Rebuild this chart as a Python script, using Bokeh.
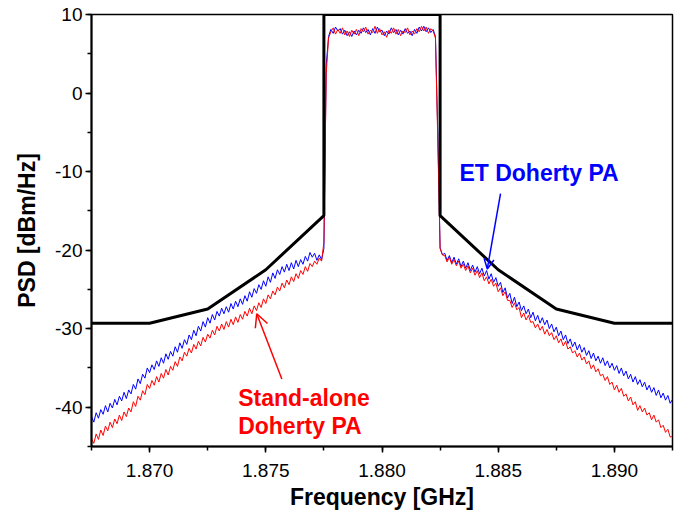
import numpy as np
from bokeh.plotting import figure
from bokeh.models import (Range1d, SingleIntervalTicker, NumeralTickFormatter,
                          Label, Arrow, OpenHead)
from bokeh.embed import file_html
from bokeh.resources import INLINE

# ---------------- data ----------------
# frequency grid of the measured spectra (GHz), 0.1 MHz spacing
freq = np.linspace(1.8675, 1.8925, 251)

# ET Doherty PA (blue)
blue_left = [
    -41.2, -41.9, -40.7, -41.4, -40.3, -40.9, -39.8, -40.6, -39.5, -40.1,
    -39.0, -39.7, -38.6, -39.2, -38.1, -38.9, -37.8, -38.3, -37.1, -37.7,
    -36.4, -37.0, -35.8, -36.3, -35.0, -35.6, -34.6, -35.2, -34.1, -34.8,
    -33.7, -34.4, -33.2, -33.9, -32.9, -33.5, -32.3, -33.0, -31.8, -32.5,
    -31.4, -32.0, -30.8, -31.4, -30.2, -30.9, -29.7, -30.3, -29.1, -29.8,
    -28.6, -29.3, -28.2, -28.9, -27.8, -28.4, -27.4, -28.1, -27.2, -27.9,
    -26.8, -27.5, -26.5, -27.2, -26.2, -26.9, -25.8, -26.5, -25.3, -26.0,
    -24.9, -25.5, -24.4, -25.0, -23.9, -24.6, -23.4, -24.1, -22.9, -23.6,
    -22.5, -23.1, -22.1, -22.8, -21.8, -22.6, -21.6, -22.4, -21.3, -22.1,
    -21.2, -21.8, -20.8, -21.4, -20.3, -20.9, -20.4, -21.3, -20.6, -21.2,
    -19.8]
blue_pass = [
    3.5, 7.2, 8.1, 7.6, 8.4, 7.9, 8.2, 7.5, 8.0, 7.3,
    7.8, 7.2, 7.9, 7.4, 8.0, 7.6, 8.3, 7.7, 8.1, 7.4,
    8.2, 7.6, 8.4, 7.8, 8.0, 7.3, 7.9, 7.5, 8.3, 7.7,
    8.1, 7.4, 8.0, 7.5, 8.2, 7.6, 7.9, 7.3, 8.1, 7.6,
    8.4, 7.9, 8.5, 7.8, 8.3, 7.7, 8.1, 7.2, -5.0]
blue_right = [
    -19.7, -20.6, -20.4, -21.3, -20.7, -21.6, -20.9, -21.8, -21.1, -22.1,
    -21.4, -22.3, -21.6, -22.6, -21.9, -22.8, -22.1, -23.0, -22.3, -23.3,
    -22.6, -23.7, -23.0, -24.1, -23.5, -24.6, -24.1, -25.4, -24.8, -26.1,
    -25.5, -26.8, -26.0, -27.2, -26.6, -27.7, -27.1, -28.1, -27.5, -28.6,
    -27.9, -29.0, -28.3, -29.3, -28.6, -29.5, -28.9, -30.0, -29.4, -30.4,
    -29.8, -30.9, -30.3, -31.4, -30.8, -31.9, -31.3, -32.3, -31.7, -32.7,
    -32.0, -33.0, -32.4, -33.4, -32.8, -33.8, -33.1, -34.1, -33.5, -34.4,
    -33.7, -34.7, -34.1, -35.0, -34.4, -35.3, -34.7, -35.7, -35.0, -36.0,
    -35.4, -36.4, -35.8, -36.8, -36.1, -37.1, -36.5, -37.4, -36.8, -37.8,
    -37.2, -38.1, -37.5, -38.5, -37.8, -38.8, -38.2, -39.1, -38.5, -39.5,
    -39.0]

# Stand-alone Doherty PA (red)
red_left = [
    -44.0, -44.6, -43.4, -44.1, -42.9, -43.6, -42.4, -43.0, -41.9, -42.6,
    -41.5, -42.1, -41.0, -41.7, -40.6, -41.2, -40.1, -40.6, -39.3, -39.9,
    -38.6, -39.1, -37.9, -38.4, -37.1, -37.6, -36.6, -37.2, -36.1, -36.8,
    -35.7, -36.3, -35.2, -35.9, -34.8, -35.3, -34.2, -34.8, -33.6, -34.1,
    -33.0, -33.5, -32.5, -33.1, -32.0, -32.6, -31.6, -32.2, -31.1, -31.7,
    -30.7, -31.2, -30.2, -30.8, -29.7, -30.3, -29.4, -30.1, -29.1, -29.8,
    -28.8, -29.5, -28.5, -29.2, -28.2, -28.8, -27.8, -28.4, -27.4, -28.1,
    -27.1, -27.7, -26.7, -27.3, -26.2, -26.8, -25.7, -26.2, -25.2, -25.7,
    -24.7, -25.2, -24.2, -24.8, -23.8, -24.4, -23.4, -24.0, -23.0, -23.6,
    -22.6, -23.1, -22.1, -22.7, -21.7, -22.1, -21.4, -21.8, -21.0, -21.4,
    -19.0]
red_pass = [
    2.5, 7.0, 7.8, 8.3, 7.5, 8.1, 7.6, 8.3, 7.4, 7.9,
    7.2, 8.0, 7.5, 8.1, 7.3, 8.2, 7.8, 8.4, 7.5, 8.0,
    7.7, 8.5, 7.6, 8.2, 7.4, 7.8, 7.1, 8.0, 7.6, 8.3,
    7.5, 8.1, 7.3, 7.9, 7.7, 8.3, 7.4, 7.9, 7.5, 8.2,
    7.8, 8.5, 7.9, 8.4, 7.6, 8.2, 7.9, 7.0, -6.0]
red_right = [
    -19.8, -20.6, -20.7, -21.5, -20.9, -21.8, -21.2, -22.0, -21.4, -22.3,
    -21.8, -22.6, -22.0, -22.9, -22.3, -23.2, -22.6, -23.5, -22.9, -23.9,
    -23.4, -24.3, -23.7, -24.6, -24.2, -25.3, -24.8, -25.8, -25.3, -26.4,
    -26.4, -27.3, -26.7, -27.6, -27.3, -28.6, -28.0, -28.9, -28.3, -29.2,
    -29.1, -29.9, -29.4, -30.2, -29.7, -30.7, -30.1, -30.9, -30.5, -31.4,
    -30.9, -31.8, -31.3, -32.2, -31.6, -32.6, -32.3, -33.1, -32.8, -33.6,
    -33.1, -34.0, -33.6, -34.5, -34.1, -35.1, -34.6, -35.5, -35.1, -36.0,
    -35.8, -36.6, -36.1, -37.1, -36.8, -37.8, -37.2, -38.1, -37.6, -38.6,
    -38.3, -39.2, -38.7, -39.7, -39.3, -40.4, -39.8, -40.6, -40.1, -41.0,
    -40.7, -41.6, -41.0, -41.9, -41.6, -42.6, -42.3, -43.2, -42.8, -43.8,
    -43.7]

# spectrum emission mask (black)
mask_freq = [1.8675, 1.8700, 1.8725, 1.8750, 1.8775, 1.8775,
             1.8825, 1.8825, 1.8850, 1.8875, 1.8900, 1.8925]
mask_psd = [-29.3, -29.3, -27.5, -22.5, -15.6, 10.0,
            10.0, -15.6, -22.5, -27.5, -29.3, -29.3]

# annotations (data coordinates)
et_label = "ET Doherty PA"
et_label_pos = (1.88333, -10.2)
et_arrow = (1.88510, -12.8, 1.88453, -22.4)
sa_label = ["Stand-alone", "Doherty PA"]
sa_label_pos = [(1.87381, -38.85), (1.87381, -42.45)]
sa_arrow = (1.87569, -36.4, 1.87461, -28.1)

blue_psd = blue_left + blue_pass + blue_right
red_psd = red_left + red_pass + red_right
assert len(blue_psd) == len(freq) == len(red_psd)

BLUE = "#0000ff"
RED = "#ff0000"
FONT = "Liberation Sans"

p = figure(frame_width=581, frame_height=432,
           min_border_left=91, min_border_right=7,
           min_border_top=14, min_border_bottom=63,
           x_range=Range1d(1.8675, 1.8925), y_range=Range1d(-45, 10),
           output_backend="svg", toolbar_location=None)

p.grid.visible = False
p.outline_line_color = "black"
p.outline_line_width = 1.5
p.background_fill_color = "white"
p.border_fill_color = "white"

p.line(freq, blue_psd, line_color=BLUE, line_width=1)
p.line(freq, red_psd, line_color=RED, line_width=1)
p.line(mask_freq, mask_psd, line_color="black", line_width=3)

# axes
p.xaxis.ticker = SingleIntervalTicker(interval=0.005, num_minor_ticks=2)
p.yaxis.ticker = SingleIntervalTicker(interval=10, num_minor_ticks=2)
p.xaxis.formatter = NumeralTickFormatter(format="0.000")
p.yaxis.formatter = NumeralTickFormatter(format="0")
p.xaxis.axis_label = "Frequency [GHz]"
p.yaxis.axis_label = "PSD [dBm/Hz]"
for ax in (p.xaxis, p.yaxis):
    ax.axis_line_width = 2
    ax.axis_line_color = "black"
    ax.major_tick_line_width = 1.5
    ax.minor_tick_line_width = 1.5
    ax.major_tick_line_color = "black"
    ax.minor_tick_line_color = "black"
    ax.major_tick_in = 0
    ax.major_tick_out = 6
    ax.minor_tick_in = 0
    ax.minor_tick_out = 4
    ax.major_label_text_font = FONT
    ax.major_label_text_font_size = "19px"
    ax.major_label_text_color = "black"
    ax.axis_label_text_font = FONT
    ax.axis_label_text_font_size = "23px"
    ax.axis_label_text_font_style = "bold"
    ax.axis_label_text_color = "black"
p.xaxis.major_label_standoff = 11
p.yaxis.major_label_standoff = 3
p.xaxis.axis_label_standoff = 4
p.yaxis.axis_label_standoff = 12

# annotations
p.add_layout(Label(x=et_label_pos[0], y=et_label_pos[1], text=et_label,
                   text_color=BLUE, text_font=FONT, text_font_size="23px",
                   text_font_style="bold", text_baseline="alphabetic"))
p.add_layout(Arrow(x_start=et_arrow[0], y_start=et_arrow[1],
                   x_end=et_arrow[2], y_end=et_arrow[3],
                   line_color=BLUE, line_width=1.5,
                   end=OpenHead(size=10, line_color=BLUE, line_width=1.5)))
for txt, pos in zip(sa_label, sa_label_pos):
    p.add_layout(Label(x=pos[0], y=pos[1], text=txt,
                       text_color=RED, text_font=FONT, text_font_size="23px",
                       text_font_style="bold", text_baseline="alphabetic"))
p.add_layout(Arrow(x_start=sa_arrow[0], y_start=sa_arrow[1],
                   x_end=sa_arrow[2], y_end=sa_arrow[3],
                   line_color=RED, line_width=1.5,
                   end=OpenHead(size=13, line_color=RED, line_width=1.5)))

open("out.html", "w").write(file_html(p, INLINE))
